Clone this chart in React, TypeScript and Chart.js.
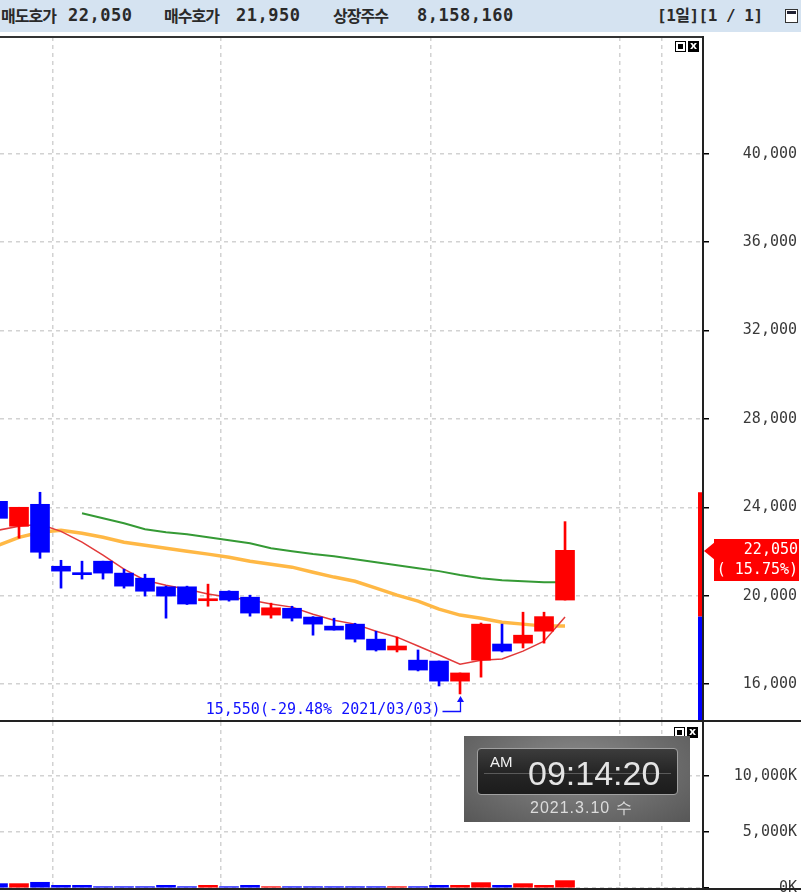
import React, { useEffect, useRef } from 'react';
import { Chart, registerables } from 'chart.js';

Chart.register(...registerables);

// ---------------- data ----------------
const dayIndex = [0, 1, 2, 3, 4, 5, 6, 7, 8, 9, 10, 11, 12, 13, 14, 15, 16, 17, 18, 19, 20, 21, 22, 23, 24, 25, 26, 27];
const opens = [24270, 23140, 24135, 21330, 21000, 21560, 21020, 20790, 20400, 20400, 19770, 20200, 19930, 19120, 19430, 19030, 18620, 18710, 18030, 17540, 17080, 17040, 16130, 17080, 17810, 17850, 18390, 19800];
const highs = [24350, 24000, 24680, 21600, 21560, 21560, 21200, 20970, 20430, 20430, 20520, 20220, 20020, 19660, 19520, 19050, 18980, 18750, 18390, 18120, 17540, 17040, 16500, 18760, 18710, 19250, 19250, 23350];
const lows = [23450, 22600, 21690, 20340, 20750, 20750, 20340, 19980, 18980, 19600, 19520, 19750, 19070, 18980, 18850, 18210, 18440, 17900, 17490, 17450, 16590, 15910, 15550, 16310, 17450, 17630, 17850, 19800];
const closes = [23500, 24000, 21965, 21110, 20950, 21020, 20430, 20200, 19980, 19620, 19840, 19800, 19210, 19450, 18980, 18710, 18440, 18030, 17540, 17720, 16630, 16130, 16500, 18710, 17490, 18210, 19050, 22050];
const volumesK = [390, 390, 510, 240, 240, 120, 120, 120, 240, 120, 240, 120, 240, 120, 120, 120, 120, 120, 120, 120, 120, 240, 240, 480, 240, 390, 240, 660];

const ma5 = [22960, 23140, 23230, 22910, 22420, 21830, 21200, 20700, 20470, 20290, 20070, 19930, 19800, 19620, 19480, 19160, 18890, 18710, 18390, 18120, 17720, 17310, 16900, 17080, 17130, 17490, 17940, 19030];
const ma20 = [22280, 22640, 22870, 22960, 22820, 22640, 22420, 22280, 22150, 22010, 21880, 21740, 21560, 21420, 21290, 21060, 20840, 20650, 20340, 20020, 19750, 19390, 19120, 18980, 18800, 18710, 18620, 18620];
const ma60 = [null, null, null, null, 23730, 23500, 23280, 23010, 22870, 22780, 22640, 22510, 22370, 22150, 22010, 21880, 21780, 21650, 21510, 21380, 21240, 21110, 20930, 20790, 20700, 20650, 20610, 20610];

const priceTicks = [40000, 36000, 32000, 28000, 24000, 20000, 16000];
const volumeTicks = [10000, 5000, 0];
const monthGridAt = [2.6, 10.6, 20.6, 29.6, 31.6];

const priceRange = { min: 14370, max: 45290 };
const volumeRange = { min: 0, max: 14820 };
const viewRange = { min: 0.095, max: 33.57 };

const lowMarkIndex = 22;
const lowMarkText = '15,550(-29.48% 2021/03/03)';
const changeText = '( 15.75%)';

const headerItems = [
  { text: '매도호가', x: 1, kind: 'ko' },
  { text: '22,050', x: 68, kind: 'num' },
  { text: '매수호가', x: 164, kind: 'ko' },
  { text: '21,950', x: 236, kind: 'num' },
  { text: '상장주수', x: 333, kind: 'ko' },
  { text: '8,158,160', x: 417, kind: 'num' },
];

const UP = '#ff0000';
const DOWN = '#0000ff';
const MONO = '"DejaVu Sans Mono", monospace';

const fmt = (v: number) => Number(v).toLocaleString('en-US');

function xScale() {
  return {
    type: 'linear' as const,
    min: viewRange.min,
    max: viewRange.max,
    offset: false,
    afterBuildTicks: (s: any) => {
      s.ticks = monthGridAt.map((v) => ({ value: v }));
    },
    afterFit: (s: any) => {
      s.height = 0;
    },
    ticks: { display: false },
    grid: { offset: false, color: '#d2d2d2', lineWidth: 1.5, drawTicks: false },
    border: { display: false, dash: [4, 4] },
  };
}

function yScale(range: { min: number; max: number }, ticks: number[], suffix: string, pad: number) {
  return {
    type: 'linear' as const,
    position: 'right' as const,
    min: range.min,
    max: range.max,
    afterBuildTicks: (s: any) => {
      s.ticks = ticks.map((v) => ({ value: v }));
    },
    afterFit: (s: any) => {
      s.width = 94;
      s.paddingTop = 0;
      s.paddingBottom = 0;
    },
    ticks: {
      crossAlign: 'far' as const,
      padding: pad,
      color: '#3a3a3a',
      font: { family: MONO, size: 15 },
      callback: (v: any) => fmt(v) + suffix,
    },
    grid: { color: '#d2d2d2', lineWidth: 1.5, tickLength: 6, tickColor: '#000', tickWidth: 1.5 },
    border: { display: false, dash: [4, 4] },
  };
}

const priceOverlay = {
  id: 'priceOverlay',
  afterDatasetsDraw(chart: any) {
    const { ctx, chartArea, scales } = chart;
    const x = scales.x;
    const y = scales.y;
    ctx.save();
    // range bar at right edge
    const prevClose = closes[closes.length - 2];
    const top = y.getPixelForValue(Math.max(...highs));
    const mid = y.getPixelForValue(prevClose);
    const bx = chartArea.right - 5;
    ctx.fillStyle = UP;
    ctx.fillRect(bx, top, 4, mid - top);
    ctx.fillStyle = DOWN;
    ctx.fillRect(bx, mid, 4, chartArea.bottom - mid);

    // low annotation
    const lx = Math.round(x.getPixelForValue(lowMarkIndex)) + 0.5;
    const ly = y.getPixelForValue(lows[lowMarkIndex]);
    const ay = Math.round(ly + 17) + 0.5;
    ctx.strokeStyle = '#1010ff';
    ctx.fillStyle = '#1010ff';
    ctx.lineWidth = 1.3;
    ctx.beginPath();
    ctx.moveTo(lx - 18, ay);
    ctx.lineTo(lx, ay);
    ctx.lineTo(lx, ly + 6);
    ctx.stroke();
    ctx.beginPath();
    ctx.moveTo(lx, ly + 2);
    ctx.lineTo(lx - 3.5, ly + 8);
    ctx.lineTo(lx + 3.5, ly + 8);
    ctx.closePath();
    ctx.fill();
    ctx.font = '15px ' + MONO;
    ctx.textAlign = 'right';
    ctx.textBaseline = 'middle';
    ctx.fillText(lowMarkText, lx - 20, ay - 1);

    // current price box
    const last = closes[closes.length - 1];
    const cy = Math.round(y.getPixelForValue(last));
    const boxL = chartArea.right + 11;
    const boxR = chart.width - 2;
    ctx.fillStyle = UP;
    ctx.fillRect(boxL, cy - 11, boxR - boxL, 42);
    ctx.beginPath();
    ctx.moveTo(chartArea.right + 1, cy + 1);
    ctx.lineTo(boxL + 1, cy - 8);
    ctx.lineTo(boxL + 1, cy + 10);
    ctx.closePath();
    ctx.fill();
    ctx.fillStyle = '#fff';
    ctx.textAlign = 'right';
    ctx.fillText(fmt(last), boxR - 1, cy);
    ctx.fillText(changeText, boxR - 1, cy + 20);
    ctx.restore();
  },
};

function PanelIcons({ left, top }: { left: number; top: number }) {
  return (
    <div style={{ position: 'absolute', left, top, display: 'flex', gap: 2 }}>
      <div style={{ width: 9, height: 9, border: '1px solid #000', background: '#fff', position: 'relative' }}>
        <div style={{ position: 'absolute', left: 2, top: 2, width: 5, height: 5, background: '#000' }} />
      </div>
      <div
        style={{
          width: 11,
          height: 11,
          background: '#000',
          color: '#fff',
          fontSize: 11,
          lineHeight: '10px',
          textAlign: 'center',
          fontFamily: '"DejaVu Sans", sans-serif',
          fontWeight: 'bold',
        }}
      >
        x
      </div>
    </div>
  );
}

export default function App() {
  const priceRef = useRef<HTMLCanvasElement>(null);
  const volRef = useRef<HTMLCanvasElement>(null);

  useEffect(() => {
    const colors = dayIndex.map((i) => (closes[i] >= opens[i] ? UP : DOWN));
    const charts: Chart[] = [];

    if (priceRef.current) {
      charts.push(
        new Chart(priceRef.current, {
          type: 'bar',
          data: {
            datasets: [
              {
                type: 'bar',
                data: dayIndex.map((i) => ({ x: i, y: [opens[i], closes[i]] })) as any,
                backgroundColor: colors,
                barThickness: 19,
                minBarLength: 2,
                grouped: false,
                order: 0,
              } as any,
              {
                type: 'bar',
                data: dayIndex.map((i) => ({ x: i, y: [lows[i], highs[i]] })) as any,
                backgroundColor: colors,
                barThickness: 2,
                grouped: false,
                order: 1,
              } as any,
              {
                type: 'line',
                data: dayIndex.map((i) => ({ x: i, y: ma5[i] })) as any,
                borderColor: '#e23a3a',
                borderWidth: 1.5,
                pointRadius: 0,
                tension: 0,
                order: 2,
              } as any,
              {
                type: 'line',
                data: dayIndex.filter((i) => ma60[i] !== null).map((i) => ({ x: i, y: ma60[i] })) as any,
                borderColor: '#359a35',
                borderWidth: 2,
                pointRadius: 0,
                tension: 0,
                order: 3,
              } as any,
              {
                type: 'line',
                data: dayIndex.map((i) => ({ x: i, y: ma20[i] })) as any,
                borderColor: '#ffb845',
                borderWidth: 3.5,
                pointRadius: 0,
                tension: 0,
                order: 4,
              } as any,
            ],
          },
          options: {
            animation: false,
            responsive: false,
            maintainAspectRatio: false,
            events: [],
            layout: { padding: { left: 0, right: 4, top: 0, bottom: 0 } },
            plugins: { legend: { display: false }, tooltip: { enabled: false } },
            scales: {
              x: xScale() as any,
              y: yScale(priceRange, priceTicks, '', 34) as any,
            },
          },
          plugins: [priceOverlay],
        })
      );
    }

    if (volRef.current) {
      charts.push(
        new Chart(volRef.current, {
          type: 'bar',
          data: {
            datasets: [
              {
                type: 'bar',
                data: dayIndex.map((i) => ({ x: i, y: volumesK[i] })) as any,
                backgroundColor: colors,
                barThickness: 19,
                grouped: false,
              } as any,
            ],
          },
          options: {
            animation: false,
            responsive: false,
            maintainAspectRatio: false,
            events: [],
            layout: { padding: { left: 0, right: 4, top: 0, bottom: 4 } },
            plugins: { legend: { display: false }, tooltip: { enabled: false } },
            scales: {
              x: xScale() as any,
              y: yScale(volumeRange, volumeTicks, 'K', 25) as any,
            },
          },
        })
      );
    }

    return () => charts.forEach((c) => c.destroy());
  }, []);

  const koFont = '"Noto Sans CJK KR", sans-serif';

  return (
    <div style={{ position: 'absolute', left: 0, top: 0, width: 801, height: 892, overflow: 'hidden', background: '#fff' }}>
      {/* header */}
      <div style={{ position: 'absolute', left: 0, top: 0, width: 801, height: 32, background: '#d5e3f1' }} />
      {headerItems.map((h, i) => (
        <span
          key={i}
          style={{
            position: 'absolute',
            left: h.x,
            top: 0,
            lineHeight: '31px',
            whiteSpace: 'pre',
            color: '#2a2a2a',
            fontFamily: h.kind === 'ko' ? koFont : MONO,
            fontSize: h.kind === 'ko' ? 16 : 17,
            fontWeight: 'bold',
            letterSpacing: h.kind === 'ko' ? -1 : 0.5,
          }}
        >
          {h.text}
        </span>
      ))}
      <span
        style={{
          position: 'absolute',
          left: 657,
          top: 0,
          lineHeight: '31px',
          whiteSpace: 'pre',
          color: '#2a2a2a',
          fontFamily: MONO + ', ' + koFont,
          fontSize: 16,
          fontWeight: 'bold',
          letterSpacing: -0.5,
        }}
      >
        [1일][1 / 1]
      </span>
      <div style={{ position: 'absolute', left: 785, top: 9, width: 11, height: 12, border: '1px solid #333', background: '#fff' }}>
        <div style={{ position: 'absolute', left: 1, top: 1, width: 9, height: 3, background: '#223' }} />
      </div>

      {/* charts */}
      <canvas ref={priceRef} width={801} height={683} style={{ position: 'absolute', left: 0, top: 37 }} />
      <canvas ref={volRef} width={801} height={170} style={{ position: 'absolute', left: 0, top: 722 }} />

      {/* frame lines */}
      <div style={{ position: 'absolute', left: 0, top: 36, width: 704, height: 2, background: '#333' }} />
      <div style={{ position: 'absolute', left: 0, top: 720, width: 801, height: 2, background: '#222' }} />
      <div style={{ position: 'absolute', left: 0, top: 888, width: 801, height: 2, background: '#222' }} />
      <div style={{ position: 'absolute', left: 702, top: 36, width: 2, height: 854, background: '#222' }} />

      <PanelIcons left={675} top={41} />
      <PanelIcons left={674} top={727} />

      {/* clock widget */}
      <div
        style={{
          position: 'absolute',
          left: 464,
          top: 736,
          width: 226,
          height: 86,
          background: 'radial-gradient(ellipse at 50% 35%, #8c8c8c 0%, #6e6e6e 55%, #575757 100%)',
        }}
      >
        <div
          style={{
            position: 'absolute',
            left: 13,
            top: 12,
            width: 199,
            height: 45,
            background: 'linear-gradient(#3c3c3c, #262626 50%, #1c1c1c)',
            border: '1px solid #a0a0a0',
            borderRadius: 4,
            overflow: 'hidden',
          }}
        >
          <div style={{ position: 'absolute', left: 6, right: 6, top: 24, height: 1, background: '#5a5a5a' }} />
          <span
            style={{
              position: 'absolute',
              left: 12,
              top: 5,
              color: '#f2f2f2',
              fontFamily: '"Liberation Sans", Arial, sans-serif',
              fontSize: 15,
              lineHeight: '15px',
            }}
          >
            AM
          </span>
          <span
            style={{
              position: 'absolute',
              left: 50,
              top: 7,
              color: '#e4e4e4',
              fontFamily: '"Liberation Sans", Arial, sans-serif',
              fontSize: 34,
              lineHeight: '34px',
            }}
          >
            09:14:20
          </span>
        </div>
        <span
          style={{
            position: 'absolute',
            left: 66,
            top: 64,
            color: '#dcdcdc',
            fontFamily: '"Liberation Sans", Arial, sans-serif',
            fontSize: 16,
            lineHeight: '16px',
            letterSpacing: 1,
            whiteSpace: 'pre',
          }}
        >
          2021.3.10 수
        </span>
      </div>
    </div>
  );
}
